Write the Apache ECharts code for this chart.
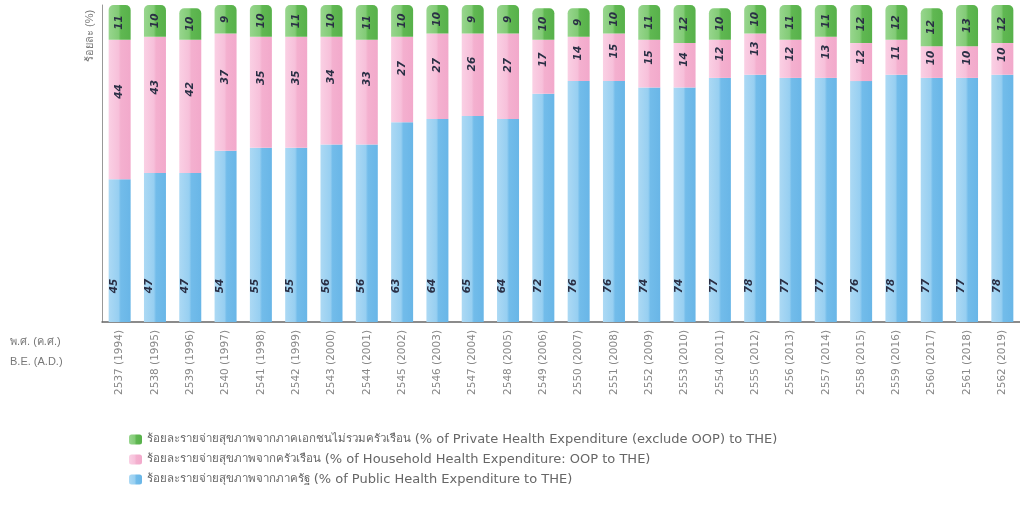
<!DOCTYPE html>
<html><head><meta charset="utf-8">
<script src="https://cdn.jsdelivr.net/npm/echarts@6/dist/echarts.min.js"></script>
<style>html,body{margin:0;padding:0;background:#fff}#c{width:1020px;height:506px}</style>
</head><body><div id="c"></div>
<script>
const categories = ['2537 (1994)','2538 (1995)','2539 (1996)','2540 (1997)','2541 (1998)','2542 (1999)','2543 (2000)','2544 (2001)','2545 (2002)','2546 (2003)','2547 (2004)','2548 (2005)','2549 (2006)','2550 (2007)','2551 (2008)','2552 (2009)','2553 (2010)','2554 (2011)','2555 (2012)','2556 (2013)','2557 (2014)','2558 (2015)','2559 (2016)','2560 (2017)','2561 (2018)','2562 (2019)'];
const publicShare    = [45,47,47,54,55,55,56,56,63,64,65,64,72,76,76,74,74,77,78,77,77,76,78,77,77,78];
const householdShare = [44,43,42,37,35,35,34,33,27,27,26,27,17,14,15,15,14,12,13,12,13,12,11,10,10,10];
const privateShare   = [11,10,10,9,10,11,10,11,10,10,9,9,10,9,10,11,12,10,10,11,11,12,12,12,13,12];
const namesTh = ['ร้อยละรายจ่ายสุขภาพจากภาคเอกชนไม่รวมครัวเรือน','ร้อยละรายจ่ายสุขภาพจากครัวเรือน','ร้อยละรายจ่ายสุขภาพจากภาครัฐ'];
const namesEn = ['(% of Private Health Expenditure (exclude OOP) to THE)','(% of Household Health Expenditure: OOP to THE)','(% of Public Health Expenditure to THE)'];
const names = namesTh.map((t,i)=>t+' '+namesEn[i]);
function grad(a,b,c,d){return {type:'linear',x:0,y:0,x2:1,y2:0,colorStops:[{offset:0,color:a},{offset:0.45,color:b},{offset:0.55,color:c},{offset:1,color:d}]};}
const cBlue = grad('#acd9f4','#97cff1','#72bcea','#69b6e7');
const cPink = grad('#fad0e4','#f7c0da','#f4b0cf','#f2a9cb');
const cGreen = grad('#98d68e','#82cb76','#60b852','#57b14a');
const lbl = {show:true,rotate:90,color:'#2a2f45',fontSize:10.5,fontStyle:'italic',fontWeight:'bold',fontFamily:'DejaVu Sans'};
const chart = echarts.init(document.getElementById('c'));
chart.setOption({
  animation:false,
  textStyle:{fontFamily:'DejaVu Sans, Noto Sans, sans-serif'},
  grid:{left:102,top:5,bottom:184,width:928},
  legend:{orient:'vertical',left:124,top:428,itemWidth:13,itemHeight:10,itemGap:7,icon:'roundRect',
    data:[names[0],names[1],names[2]],
    formatter:function(n){const i=names.indexOf(n);return '{th|'+namesTh[i]+' }{en|'+namesEn[i]+'}';},
    textStyle:{color:'#666',fontFamily:'DejaVu Sans',
      rich:{th:{fontSize:11.5,color:'#666',fontFamily:'DejaVu Sans'},en:{fontSize:13,color:'#666',fontFamily:'DejaVu Sans'}}}},
  xAxis:{type:'category',data:categories,
    axisLine:{lineStyle:{color:'#666',width:1.5}},axisTick:{show:false},
    axisLabel:{rotate:90,fontSize:10.5,color:'#888',margin:8,interval:0,fontFamily:'DejaVu Sans'}},
  yAxis:{type:'value',min:0,max:100,
    axisLine:{show:true,lineStyle:{color:'#999'}},axisTick:{show:false},axisLabel:{show:false},splitLine:{show:false}},
  series:[
    {name:names[2],type:'bar',stack:'a',data:publicShare,barWidth:22,itemStyle:{color:cBlue},
      label:Object.assign({},lbl,{position:'insideBottom',distance:36})},
    {name:names[1],type:'bar',stack:'a',data:householdShare,barWidth:22,itemStyle:{color:cPink},
      label:Object.assign({},lbl,{position:['50%','37%'],align:'center',verticalAlign:'middle'})},
    {name:names[0],type:'bar',stack:'a',data:privateShare,barWidth:22,itemStyle:{color:cGreen,borderRadius:[5,5,0,0]},
      label:Object.assign({},lbl,{position:'inside'})}
  ],
  graphic:[
    {type:'text',left:10,top:336,style:{text:'พ.ศ. (ค.ศ.)',fontSize:11,fill:'#777'}},
    {type:'text',left:10,top:356,style:{text:'B.E. (A.D.)',fontSize:11,fill:'#777'}},
    {type:'text',x:84,y:62,rotation:Math.PI/2,style:{text:'ร้อยละ (%)',fontSize:11,fill:'#777'}}
  ]
});
</script></body></html>
